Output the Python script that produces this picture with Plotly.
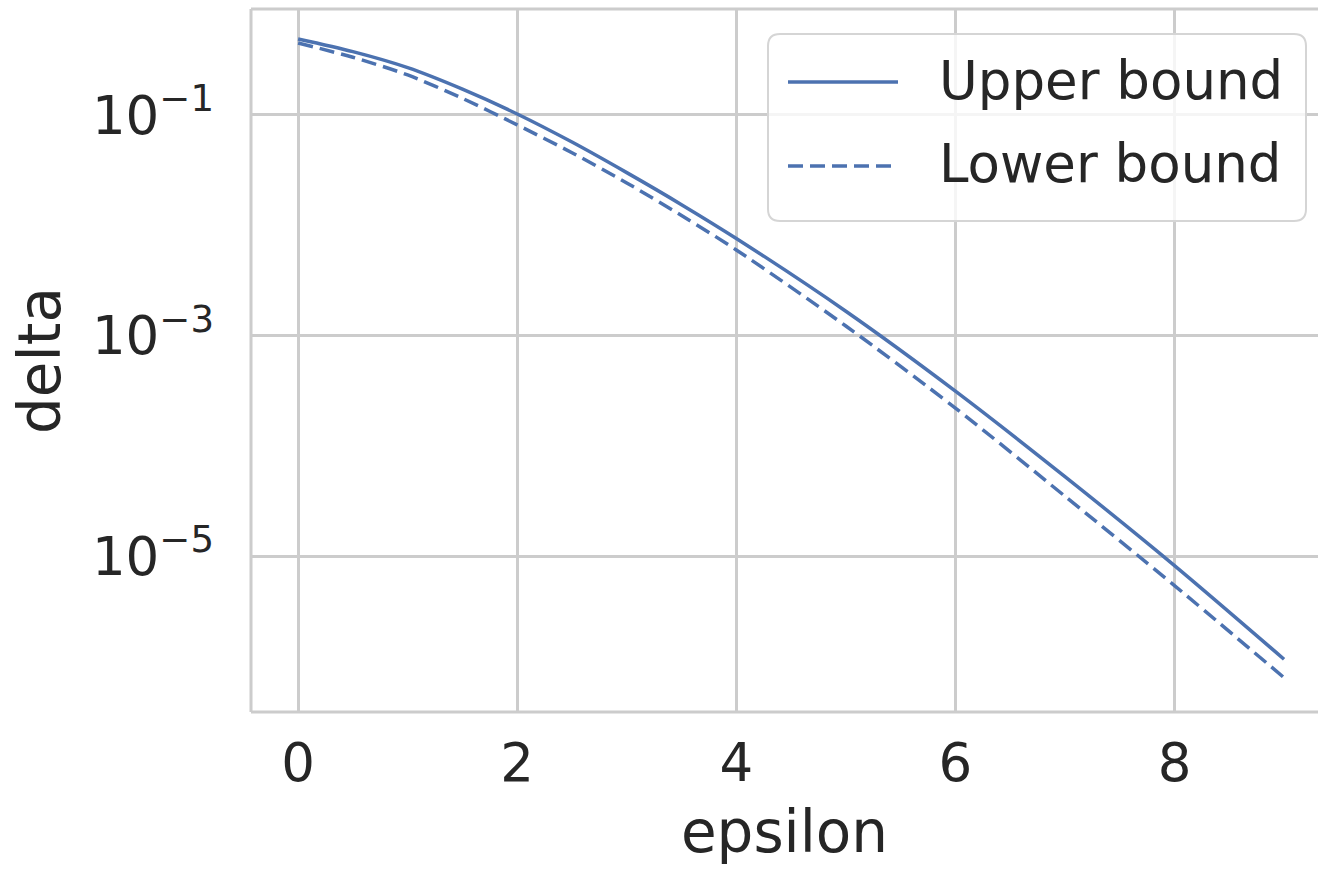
import plotly.graph_objects as go

# ---- data ----
epsilon = [0, 0.5, 1, 1.5, 2, 2.5, 3, 3.5, 4, 5, 6, 7, 8, 9]
upper_bound = [0.4887, 0.375, 0.2685, 0.1714, 0.1021, 0.0568, 0.0300, 0.01538, 0.00759,
               0.00166, 3.13e-4, 5.25e-5, 8.2e-6, 1.16e-6]
lower_bound = [0.4498, 0.3334, 0.2307, 0.1416, 0.0813, 0.0455, 0.0242, 0.01227, 0.00597,
               0.00122, 2.20e-4, 3.49e-5, 5.40e-6, 7.9e-7]

series_names = ["Upper bound", "Lower bound"]
x_tick_vals = [0, 2, 4, 6, 8]
x_tick_text = ["0", "2", "4", "6", "8"]
y_tick_vals = [1e-1, 1e-3, 1e-5]
y_tick_text = ["10<sup>−1</sup>", "10<sup>−3</sup>", "10<sup>−5</sup>"]

BLUE = "#4c72b0"
GRID = "#cccccc"
TEXT = "#262626"
FONT = "DejaVu Sans"
DASH = "15px,7px"

W, H = 1318, 869
L, T, B, R = 251, 9, 157, 0
PW, PH = W - L - R, H - T - B


def px(xp):
    return (xp - L) / PW


def py(yp):
    return (H - B - yp) / PH


fig = go.Figure()
fig.add_trace(go.Scatter(x=epsilon, y=upper_bound, mode="lines", name=series_names[0],
                         line=dict(color=BLUE, width=3.5, shape="spline", smoothing=0.8)))
fig.add_trace(go.Scatter(x=epsilon, y=lower_bound, mode="lines", name=series_names[1],
                         line=dict(color=BLUE, width=3.5, dash=DASH, shape="spline", smoothing=0.8)))

# frame (left, top, bottom) - the right spine lies outside the picture
for x0, y0, x1, y1 in [(0, 0, 0, 1), (0, 1, 1, 1), (0, 0, 1, 0)]:
    fig.add_shape(type="line", xref="paper", yref="paper", x0=x0, y0=y0, x1=x1, y1=y1,
                  line=dict(color=GRID, width=3), layer="below")

# ---- legend drawn by hand (rounded box like matplotlib) ----
bx0, by0, bx1, by1, rr = 768, 34, 1306, 221, 12
path = (f"M{px(bx0 + rr)},{py(by0)} L{px(bx1 - rr)},{py(by0)} "
        f"Q{px(bx1)},{py(by0)} {px(bx1)},{py(by0 + rr)} "
        f"L{px(bx1)},{py(by1 - rr)} Q{px(bx1)},{py(by1)} {px(bx1 - rr)},{py(by1)} "
        f"L{px(bx0 + rr)},{py(by1)} Q{px(bx0)},{py(by1)} {px(bx0)},{py(by1 - rr)} "
        f"L{px(bx0)},{py(by0 + rr)} Q{px(bx0)},{py(by0)} {px(bx0 + rr)},{py(by0)} Z")
fig.add_shape(type="path", xref="paper", yref="paper", path=path,
              fillcolor="rgba(255,255,255,0.8)", line=dict(color="#d5d5d5", width=2), layer="above")

legend_rows = [(82, "solid"), (166, DASH)]
for (ly, dash), name in zip(legend_rows, series_names):
    fig.add_shape(type="line", xref="paper", yref="paper", x0=px(788), x1=px(898), y0=py(ly), y1=py(ly),
                  line=dict(color=BLUE, width=3.5, dash=dash), layer="above")
    fig.add_annotation(xref="paper", yref="paper", x=px(937), y=py(ly - 2), xanchor="left", yanchor="middle",
                       text=name, showarrow=False, font=dict(family=FONT, size=53, color=TEXT))

fig.update_layout(
    width=W, height=H,
    margin=dict(l=L, r=R, t=T, b=B, pad=0),
    paper_bgcolor="white", plot_bgcolor="white",
    font=dict(family=FONT, size=53, color=TEXT),
    showlegend=False,
    xaxis=dict(range=[-0.43, 9.31], tickvals=x_tick_vals, ticktext=x_tick_text,
               showgrid=True, gridcolor=GRID, gridwidth=2.5, zeroline=False,
               showline=False, ticks="", tickfont=dict(size=53), ticklabelstandoff=15,
               title=dict(text="epsilon", font=dict(size=58), standoff=19)),
    yaxis=dict(type="log", range=[-6.414, -0.039], tickvals=y_tick_vals, ticktext=y_tick_text,
               showgrid=True, gridcolor=GRID, gridwidth=2.5, zeroline=False,
               showline=False, ticks="", tickfont=dict(size=53), ticklabelstandoff=36,
               title=dict(text="delta", font=dict(size=58), standoff=12)),
)

fig.write_html("out.html")
